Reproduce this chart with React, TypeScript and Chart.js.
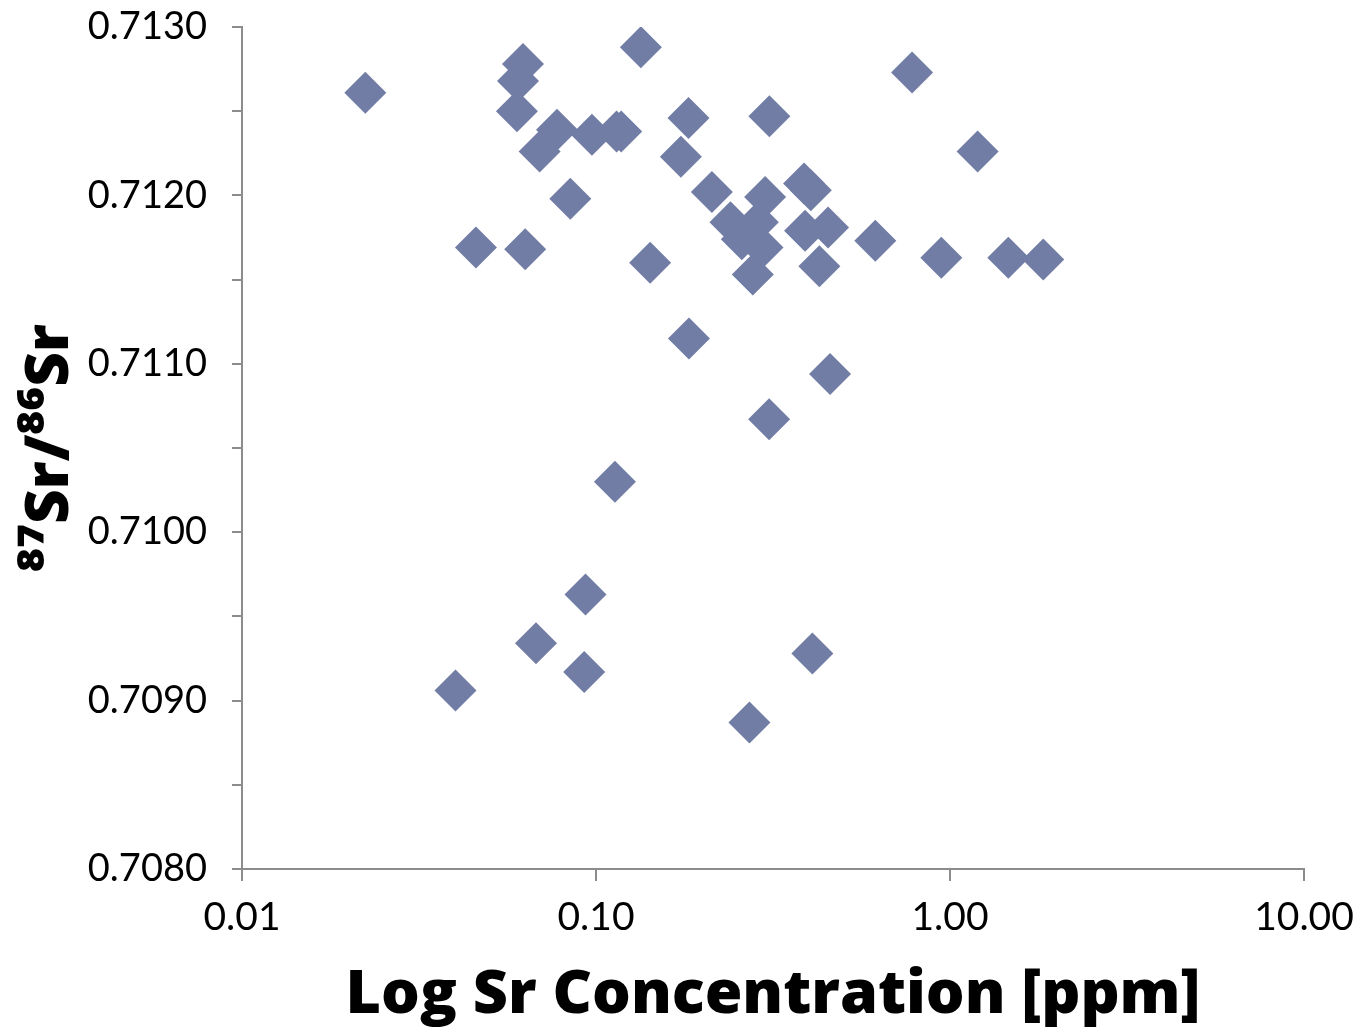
import React, { useEffect, useRef } from 'react';
import { Chart, registerables } from 'chart.js';

Chart.register(...registerables);

// Sr concentration [ppm] (log axis)
const srConcentration = [
  0.0223, 0.0622, 0.0602, 0.0598, 0.1339, 0.0776, 0.0693, 0.0974, 0.1143, 0.1178,
  0.1825, 0.3089, 0.1737, 0.0846, 0.0458, 0.0631, 0.1422, 0.2125, 0.3004, 0.3871,
  0.4044, 0.2398, 0.2865, 0.2582, 0.2953, 0.2773, 0.3896, 0.4524, 0.4276, 0.6153,
  0.945, 1.461, 1.834, 1.197, 0.7812, 0.183, 0.4583, 0.3083, 0.1131, 0.0934,
  0.0677, 0.0926, 0.0401, 0.4086, 0.2713,
];

// 87Sr/86Sr ratio
const srRatio = [
  0.71261, 0.71278, 0.71268, 0.7125, 0.71288, 0.71239, 0.71226, 0.71236, 0.71238, 0.71238,
  0.71246, 0.71247, 0.71223, 0.71198, 0.71169, 0.71168, 0.7116, 0.71202, 0.71199, 0.71207,
  0.71203, 0.71184, 0.71184, 0.71174, 0.71169, 0.71153, 0.71179, 0.71181, 0.71158, 0.71173,
  0.71163, 0.71163, 0.71162, 0.71226, 0.71273, 0.71115, 0.71094, 0.71067, 0.7103, 0.70963,
  0.70934, 0.70917, 0.70906, 0.70928, 0.70887,
];

const xTickValues = [0.01, 0.1, 1, 10];
const yMin = 0.708;
const yMax = 0.713;
const yMinorStep = 0.0005;

const xTitle = 'Log Sr Concentration [ppm]';
const yTitle = '⁸⁷Sr/⁸⁶Sr';

const markerColor = 'rgb(113,125,165)';
const axisColor = '#8c8c8c';

export default function App() {
  const canvasRef = useRef<HTMLCanvasElement | null>(null);

  useEffect(() => {
    if (!canvasRef.current) return;
    const points = srConcentration.map((x, i) => ({ x, y: srRatio[i] }));
    const chart = new Chart(canvasRef.current, {
      type: 'scatter',
      data: {
        datasets: [
          {
            data: points,
            pointStyle: 'rectRot',
            pointRadius: 21,
            pointHoverRadius: 21,
            backgroundColor: markerColor,
            borderWidth: 0,
            showLine: false,
          },
        ],
      },
      options: {
        animation: false,
        responsive: true,
        maintainAspectRatio: false,
        events: [],
        layout: { padding: { top: 27, right: 54, left: 0, bottom: 0 } },
        plugins: {
          legend: { display: false },
          tooltip: { enabled: false },
        },
        scales: {
          x: {
            type: 'logarithmic',
            min: 0.01,
            max: 10,
            afterBuildTicks: (scale: any) => {
              scale.ticks = xTickValues.map((v) => ({ value: v }));
            },
            afterFit: (scale: any) => {
              scale.height = 164;
              scale.paddingLeft = 0;
              scale.paddingRight = 0;
            },
            ticks: {
              autoSkip: false,
              maxRotation: 0,
              minRotation: 0,
              padding: 13,
              color: '#000',
              font: { family: 'Lato', size: 39 },
              callback: (value: any) => Number(value).toFixed(2),
            },
            grid: {
              display: true,
              drawOnChartArea: false,
              drawTicks: true,
              tickLength: 12,
              color: axisColor,
              lineWidth: 2,
            },
            border: { display: true, color: axisColor, width: 2 },
            title: {
              display: true,
              text: xTitle,
              color: '#000',
              font: { family: 'Open Sans', size: 61, weight: '800' },
              padding: { top: 0, bottom: 1 },
            },
          },
          y: {
            type: 'linear',
            min: yMin,
            max: yMax,
            afterFit: (scale: any) => {
              scale.width = 242;
              scale.paddingTop = 0;
              scale.paddingBottom = 0;
            },
            ticks: {
              stepSize: yMinorStep,
              autoSkip: false,
              padding: 25,
              color: '#000',
              font: { family: 'Lato', size: 38 },
              callback: (value: any, index: number) => (index % 2 === 0 ? Number(value).toFixed(4) : ''),
            },
            grid: {
              display: true,
              drawOnChartArea: false,
              drawTicks: true,
              tickLength: 10,
              color: axisColor,
              lineWidth: 2,
            },
            border: { display: true, color: axisColor, width: 2 },
            title: {
              display: true,
              text: yTitle,
              color: '#000',
              font: { family: 'Open Sans', size: 60, weight: '800' },
              padding: { top: 15, bottom: 0 },
            },
          },
        },
      },
    });
    return () => chart.destroy();
  }, []);

  return (
    <div style={{ position: 'fixed', left: 0, top: 0, width: '1358px', height: '1033px', background: '#fff' }}>
      <canvas ref={canvasRef} />
    </div>
  );
}
